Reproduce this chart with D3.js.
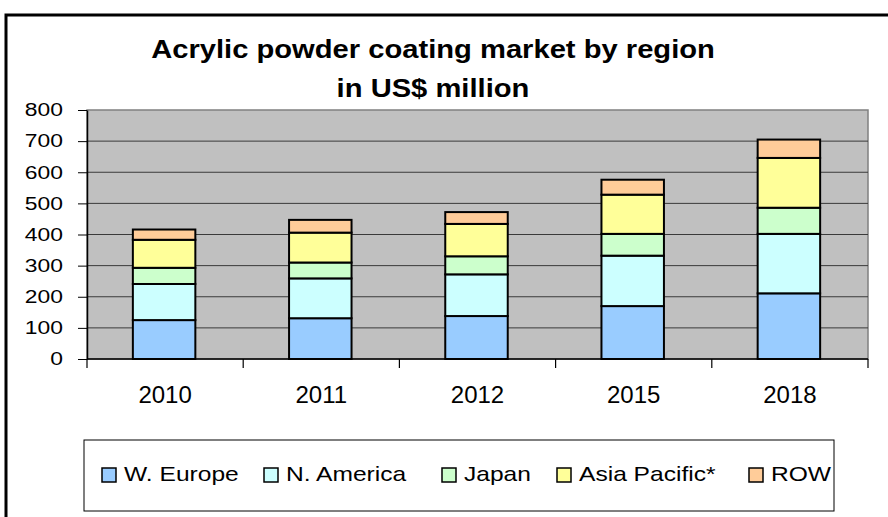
<!DOCTYPE html>
<html>
<head>
<meta charset="utf-8">
<script src="https://cdn.jsdelivr.net/npm/d3@7"></script>
<style>
  body { margin: 0; background: #fff; }
  svg { display: block; font-family: "Liberation Sans", Arial, sans-serif; }
</style>
</head>
<body>
<svg width="888" height="517"></svg>
<script>
const years = ['2010', '2011', '2012', '2015', '2018'];
const regions = ['W. Europe', 'N. America', 'Japan', 'Asia Pacific*', 'ROW'];
const wEurope = [125, 131, 138, 170, 211];
const nAmerica = [116, 128, 134, 162, 191];
const japan = [52, 51, 58, 70, 84];
const asiaPacific = [90, 96, 104, 126, 160];
const row = [33, 41, 38, 48, 59];
const yTicks = [0, 100, 200, 300, 400, 500, 600, 700, 800];
const colors = ['#99ccff', '#ccffff', '#ccffcc', '#ffff99', '#ffcc99'];

// build table for d3.stack
const table = years.map((y, i) => ({
  year: y,
  'W. Europe': wEurope[i],
  'N. America': nAmerica[i],
  'Japan': japan[i],
  'Asia Pacific*': asiaPacific[i],
  'ROW': row[i]
}));

// the source picture has its text a bit wider than normal Arial
function stretch(sel, f) {
  sel.each(function() {
    const w = this.getComputedTextLength();
    d3.select(this).attr('textLength', w * f).attr('lengthAdjust', 'spacingAndGlyphs');
  });
}

const svg = d3.select('svg');

// outer frame
svg.append('rect')
  .attr('x', 6).attr('y', 15)
  .attr('width', 1000).attr('height', 1000)
  .attr('fill', 'none').attr('stroke', '#000').attr('stroke-width', 3);

// title
const title = svg.append('g')
  .attr('font-size', 26.5).attr('font-weight', 'bold')
  .attr('text-anchor', 'middle');
title.append('text').attr('x', 433).attr('y', 58)
  .text('Acrylic powder coating market by region');
title.append('text').attr('x', 433).attr('y', 97)
  .text('in US$ million');
stretch(title.selectAll('text'), 1.1);

const plotLeft = 87, plotRight = 868, plotTop = 110, plotBottom = 359;

const x = d3.scaleBand()
  .domain(years)
  .range([plotLeft, plotRight])
  .paddingInner(0.6)
  .paddingOuter(0.3);

const yScale = d3.scaleLinear()
  .domain([0, 800])
  .range([plotBottom, plotTop]);

// plot background
svg.append('rect')
  .attr('x', plotLeft).attr('y', plotTop)
  .attr('width', plotRight - plotLeft).attr('height', plotBottom - plotTop)
  .attr('fill', '#c0c0c0')
  .attr('stroke', '#808080').attr('stroke-width', 1.5);

// gridlines
svg.append('g')
  .selectAll('line')
  .data(yTicks.filter(t => t > 0 && t < 800))
  .enter()
  .append('line')
  .attr('x1', plotLeft).attr('x2', plotRight)
  .attr('y1', d => yScale(d)).attr('y2', d => yScale(d))
  .attr('stroke', '#3a3a3a').attr('stroke-width', 1);

// stacked bars
const series = d3.stack().keys(regions)(table);

svg.append('g')
  .selectAll('g')
  .data(series)
  .enter()
  .append('g')
  .attr('fill', (d, i) => colors[i])
  .selectAll('rect')
  .data(d => d)
  .enter()
  .append('rect')
  .attr('x', d => x(d.data.year) - 1)
  .attr('width', x.bandwidth())
  .attr('y', d => yScale(d[1]))
  .attr('height', d => yScale(d[0]) - yScale(d[1]))
  .attr('stroke', '#000')
  .attr('stroke-width', 2);

// y axis
const yAxis = d3.axisLeft(yScale)
  .tickValues(yTicks)
  .tickSize(9)
  .tickPadding(15)
  .tickSizeOuter(0);
const yg = svg.append('g')
  .attr('transform', `translate(${plotLeft},0)`)
  .call(yAxis);
yg.select('.domain').attr('stroke', '#000').attr('stroke-width', 1.5);
yg.selectAll('.tick line').attr('stroke', '#000');
yg.selectAll('.tick text')
  .attr('font-size', 18)
  .attr('font-family', '"Liberation Sans", Arial, sans-serif')
  .attr('fill', '#000');
stretch(yg.selectAll('.tick text'), 1.27);

// x axis: baseline, category boundary ticks, labels
svg.append('line')
  .attr('x1', plotLeft).attr('x2', plotRight)
  .attr('y1', plotBottom).attr('y2', plotBottom)
  .attr('stroke', '#000').attr('stroke-width', 1.5);

const bounds = d3.range(years.length + 1).map(i => plotLeft + i * (plotRight - plotLeft) / years.length);
svg.append('g')
  .selectAll('line')
  .data(bounds)
  .enter()
  .append('line')
  .attr('x1', d => d).attr('x2', d => d)
  .attr('y1', plotBottom).attr('y2', plotBottom + 9)
  .attr('stroke', '#000').attr('stroke-width', 1.2);

svg.append('g')
  .selectAll('text')
  .data(years)
  .enter()
  .append('text')
  .attr('x', d => x(d) + x.bandwidth() / 2)
  .attr('y', 403)
  .attr('text-anchor', 'middle')
  .attr('font-size', 24)
  .text(d => d);

// legend
svg.append('rect')
  .attr('x', 84).attr('y', 440)
  .attr('width', 750).attr('height', 71)
  .attr('fill', '#fff').attr('stroke', '#000').attr('stroke-width', 1);

const legendX = [102, 264, 442, 557, 749];
const lg = svg.append('g')
  .selectAll('g')
  .data(regions)
  .enter()
  .append('g')
  .attr('transform', (d, i) => `translate(${legendX[i]},468)`);
lg.append('rect')
  .attr('x', 0).attr('y', 0)
  .attr('width', 14).attr('height', 14)
  .attr('fill', (d, i) => colors[i])
  .attr('stroke', '#000').attr('stroke-width', 1.5);
lg.append('text')
  .attr('x', 22).attr('y', 13)
  .attr('font-size', 21)
  .text(d => d);
stretch(lg.selectAll('text'), 1.17);
</script>
</body>
</html>
